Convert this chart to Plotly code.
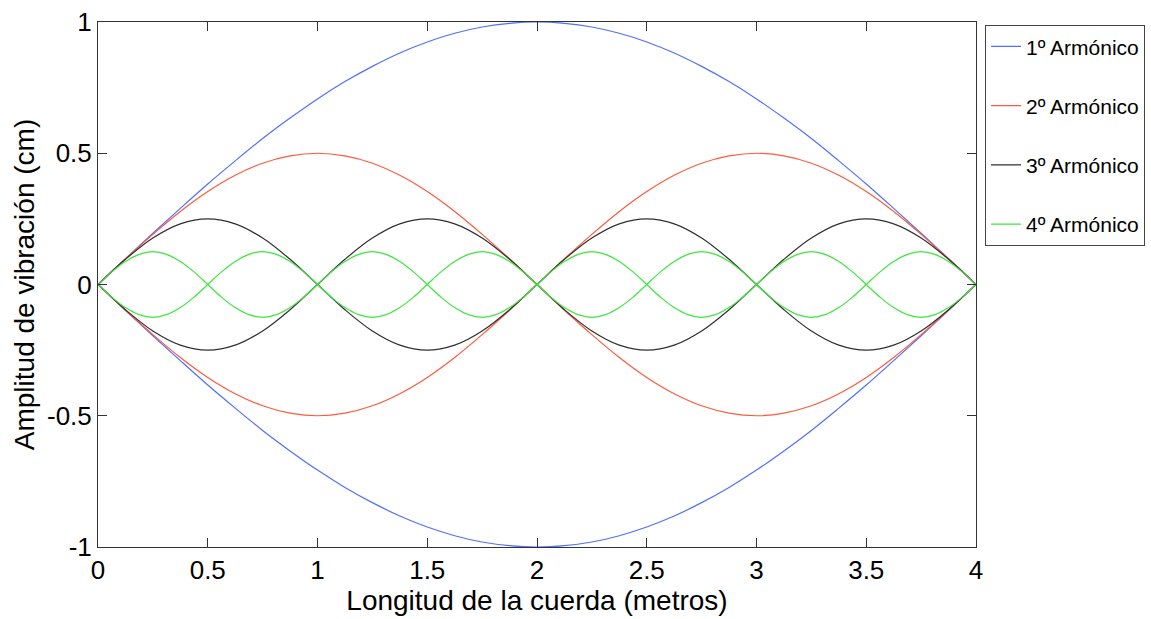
import plotly.graph_objects as go

# sample positions along the string (m)
X33 = [0, 0.125, 0.25, 0.375, 0.5, 0.625, 0.75, 0.875, 1, 1.125, 1.25, 1.375, 1.5, 1.625, 1.75, 1.875,
       2, 2.125, 2.25, 2.375, 2.5, 2.625, 2.75, 2.875, 3, 3.125, 3.25, 3.375, 3.5, 3.625, 3.75, 3.875, 4]
X65 = [0, 0.0625, 0.125, 0.1875, 0.25, 0.3125, 0.375, 0.4375, 0.5, 0.5625, 0.625, 0.6875, 0.75, 0.8125, 0.875, 0.9375,
       1, 1.0625, 1.125, 1.1875, 1.25, 1.3125, 1.375, 1.4375, 1.5, 1.5625, 1.625, 1.6875, 1.75, 1.8125, 1.875, 1.9375,
       2, 2.0625, 2.125, 2.1875, 2.25, 2.3125, 2.375, 2.4375, 2.5, 2.5625, 2.625, 2.6875, 2.75, 2.8125, 2.875, 2.9375,
       3, 3.0625, 3.125, 3.1875, 3.25, 3.3125, 3.375, 3.4375, 3.5, 3.5625, 3.625, 3.6875, 3.75, 3.8125, 3.875, 3.9375, 4]

H1_up = [0, 0.098, 0.195, 0.290, 0.383, 0.471, 0.556, 0.634, 0.707, 0.773, 0.831, 0.882, 0.924, 0.957, 0.981, 0.995,
         1.0, 0.995, 0.981, 0.957, 0.924, 0.882, 0.831, 0.773, 0.707, 0.634, 0.556, 0.471, 0.383, 0.290, 0.195, 0.098, 0]
H1_dn = [0, -0.098, -0.195, -0.290, -0.383, -0.471, -0.556, -0.634, -0.707, -0.773, -0.831, -0.882, -0.924, -0.957, -0.981, -0.995,
         -1.0, -0.995, -0.981, -0.957, -0.924, -0.882, -0.831, -0.773, -0.707, -0.634, -0.556, -0.471, -0.383, -0.290, -0.195, -0.098, 0]

H2_up = [0, 0.098, 0.191, 0.278, 0.354, 0.416, 0.462, 0.490, 0.5, 0.490, 0.462, 0.416, 0.354, 0.278, 0.191, 0.098,
         0, -0.098, -0.191, -0.278, -0.354, -0.416, -0.462, -0.490, -0.5, -0.490, -0.462, -0.416, -0.354, -0.278, -0.191, -0.098, 0]
H2_dn = [0, -0.098, -0.191, -0.278, -0.354, -0.416, -0.462, -0.490, -0.5, -0.490, -0.462, -0.416, -0.354, -0.278, -0.191, -0.098,
         0, 0.098, 0.191, 0.278, 0.354, 0.416, 0.462, 0.490, 0.5, 0.490, 0.462, 0.416, 0.354, 0.278, 0.191, 0.098, 0]

H3_up = [0, 0.096, 0.177, 0.231, 0.25, 0.231, 0.177, 0.096, 0, -0.096, -0.177, -0.231, -0.25, -0.231, -0.177, -0.096,
         0, 0.096, 0.177, 0.231, 0.25, 0.231, 0.177, 0.096, 0, -0.096, -0.177, -0.231, -0.25, -0.231, -0.177, -0.096, 0]
H3_dn = [0, -0.096, -0.177, -0.231, -0.25, -0.231, -0.177, -0.096, 0, 0.096, 0.177, 0.231, 0.25, 0.231, 0.177, 0.096,
         0, -0.096, -0.177, -0.231, -0.25, -0.231, -0.177, -0.096, 0, 0.096, 0.177, 0.231, 0.25, 0.231, 0.177, 0.096, 0]

H4_up = [0, 0.048, 0.088, 0.115, 0.125, 0.115, 0.088, 0.048, 0, -0.048, -0.088, -0.115, -0.125, -0.115, -0.088, -0.048,
         0, 0.048, 0.088, 0.115, 0.125, 0.115, 0.088, 0.048, 0, -0.048, -0.088, -0.115, -0.125, -0.115, -0.088, -0.048,
         0, 0.048, 0.088, 0.115, 0.125, 0.115, 0.088, 0.048, 0, -0.048, -0.088, -0.115, -0.125, -0.115, -0.088, -0.048,
         0, 0.048, 0.088, 0.115, 0.125, 0.115, 0.088, 0.048, 0, -0.048, -0.088, -0.115, -0.125, -0.115, -0.088, -0.048, 0]
H4_dn = [0, -0.048, -0.088, -0.115, -0.125, -0.115, -0.088, -0.048, 0, 0.048, 0.088, 0.115, 0.125, 0.115, 0.088, 0.048,
         0, -0.048, -0.088, -0.115, -0.125, -0.115, -0.088, -0.048, 0, 0.048, 0.088, 0.115, 0.125, 0.115, 0.088, 0.048,
         0, -0.048, -0.088, -0.115, -0.125, -0.115, -0.088, -0.048, 0, 0.048, 0.088, 0.115, 0.125, 0.115, 0.088, 0.048,
         0, -0.048, -0.088, -0.115, -0.125, -0.115, -0.088, -0.048, 0, 0.048, 0.088, 0.115, 0.125, 0.115, 0.088, 0.048, 0]

NAMES = ["1º Armónico", "2º Armónico", "3º Armónico", "4º Armónico"]
COLORS = ["#5070ff", "#ff5a3c", "#303030", "#3ee63e"]

series = [(X33, H1_up, H1_dn), (X33, H2_up, H2_dn), (X33, H3_up, H3_dn), (X65, H4_up, H4_dn)]

fig = go.Figure()
for i, (xs, up, dn) in enumerate(series):
    for j, ys in enumerate((up, dn)):
        fig.add_trace(go.Scatter(
            x=xs, y=ys, mode="lines", name=NAMES[i],
            line=dict(color=COLORS[i], width=1.2, shape="spline", smoothing=1.0),
            legendgroup=f"h{i}", showlegend=(j == 0)))

font = "Liberation Sans, Arial, Helvetica, sans-serif"
axis_common = dict(showline=True, linecolor="#333333", linewidth=1, mirror="ticks",
                   ticks="inside", ticklen=9, tickcolor="#333333", showgrid=False, zeroline=False,
                   automargin=False,
                   tickfont=dict(family=font, size=26, color="black"))

fig.update_layout(
    width=1151, height=619,
    margin=dict(l=98, r=175, t=22, b=72, autoexpand=False),
    paper_bgcolor="white", plot_bgcolor="white",
    font=dict(family=font, color="black"),
    xaxis=dict(range=[0, 4], tickvals=[0, 0.5, 1, 1.5, 2, 2.5, 3, 3.5, 4],
               ticktext=["0", "0.5", "1", "1.5", "2", "2.5", "3", "3.5", "4"],
               title=dict(text="Longitud de la cuerda (metros)", font=dict(family=font, size=28), standoff=4),
               **axis_common),
    yaxis=dict(range=[-1, 1], tickvals=[-1, -0.5, 0, 0.5, 1],
               ticktext=["-1", "-0.5", "0", "0.5", "1"],
               title=dict(text="Amplitud de vibración (cm)", font=dict(family=font, size=28), standoff=4),
               **axis_common),
    legend=dict(x=1.0103, y=0.994, xanchor="left", yanchor="top",
                bgcolor="white", bordercolor="#444444", borderwidth=1,
                font=dict(family=font, size=21, color="black"),
                traceorder="grouped", tracegroupgap=29),
    showlegend=True,
)

fig.write_html("out.html")
